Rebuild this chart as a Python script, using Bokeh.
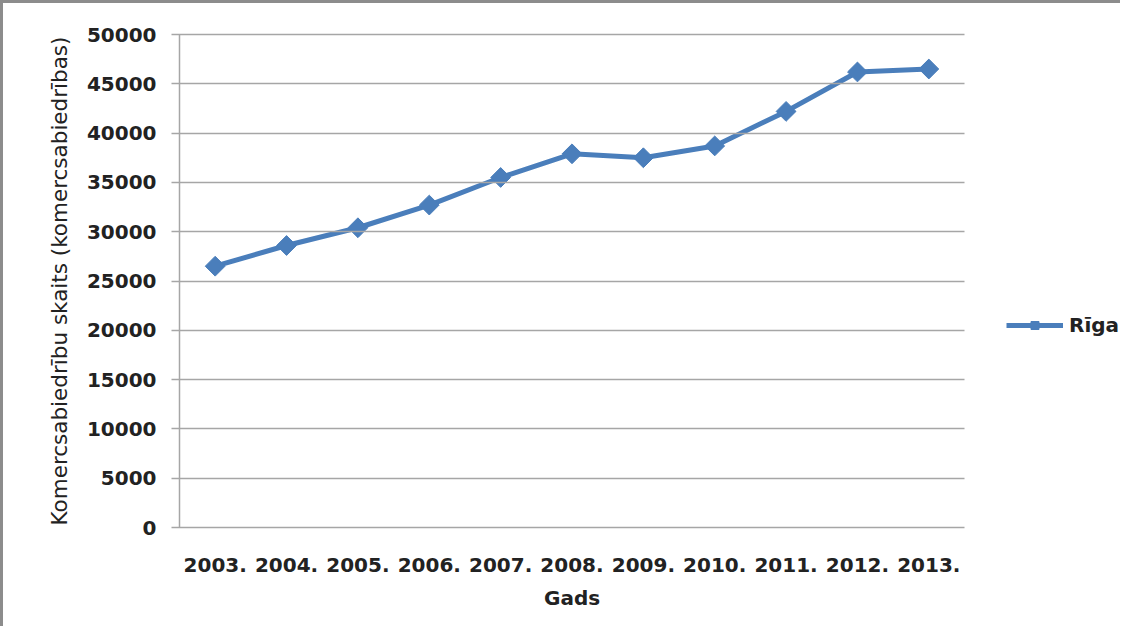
from bokeh.plotting import figure
from bokeh.models import Range1d, SingleIntervalTicker, FixedTicker, Legend, LegendItem, Title
from bokeh.embed import file_html
from bokeh.resources import INLINE
import math

years = ["2003.", "2004.", "2005.", "2006.", "2007.", "2008.", "2009.", "2010.", "2011.", "2012.", "2013."]
riga = [26500, 28600, 30400, 32700, 35500, 37900, 37500, 38700, 42200, 46200, 46500]

FONT = "DejaVu Sans"
BLUE = "#4a7ebb"
GRID = "#a6a6a6"

W, H = 1120, 626
LEFT, RIGHT, TOP, BOTTOM = 176, 4, 31, 102
PLOT_W = 785                      # width of the gridded area
frame_w = W - LEFT - RIGHT
n = len(years)
xs = list(range(n))
x_end = -0.5 + n * frame_w / PLOT_W

p = figure(width=W, height=H, x_range=Range1d(-0.5, x_end), y_range=Range1d(0, 50000),
           output_backend="svg", toolbar_location=None,
           min_border_left=LEFT, min_border_right=RIGHT, min_border_top=TOP, min_border_bottom=BOTTOM)
p.styles = {"border-top": "3px solid #8c8c8c", "border-left": "3px solid #8c8c8c"}
p.outline_line_color = None
p.xgrid.grid_line_color = None
p.ygrid.grid_line_color = None

p.yaxis.ticker = SingleIntervalTicker(interval=5000)
p.yaxis.axis_line_color = GRID
p.yaxis.axis_line_width = 1.5
p.yaxis.major_tick_line_color = GRID
p.yaxis.major_tick_line_width = 1.5
p.yaxis.major_tick_out = 8
p.yaxis.major_tick_in = PLOT_W
p.yaxis.minor_tick_line_color = None
p.yaxis.major_label_text_font = FONT
p.yaxis.major_label_text_font_style = "bold"
p.yaxis.major_label_text_font_size = "20px"
p.yaxis.major_label_text_color = "#222222"
p.yaxis.major_label_standoff = 15
p.yaxis.axis_label = "Komercsabiedrību skaits (komercsabiedrības)"
p.yaxis.axis_label_text_font = FONT
p.yaxis.axis_label_text_font_style = "normal"
p.yaxis.axis_label_text_font_size = "21.5px"
p.yaxis.axis_label_text_color = "#222222"
p.yaxis.axis_label_standoff = 12

p.xaxis.ticker = FixedTicker(ticks=xs)
p.xaxis.major_label_overrides = {i: years[i] for i in xs}
p.xaxis.bounds = (-0.5, n - 0.5)
p.xaxis.axis_line_color = None
p.xaxis.major_tick_line_color = None
p.xaxis.minor_tick_line_color = None
p.xaxis.major_label_text_font = FONT
p.xaxis.major_label_text_font_style = "bold"
p.xaxis.major_label_text_font_size = "20px"
p.xaxis.major_label_text_color = "#222222"
p.xaxis.major_label_standoff = 24

gads = Title(text="Gads", align="left", offset=PLOT_W / 2 - 28, standoff=18,
             text_font=FONT, text_font_style="bold", text_font_size="20px",
             text_color="#222222")
p.add_layout(gads, "below")

ln = p.line(xs, riga, line_color=BLUE, line_width=5)
mk = p.scatter(xs, riga, marker="square", angle=math.pi / 4, size=14,
               fill_color=BLUE, line_color=BLUE)

legend = Legend(items=[LegendItem(label="Rīga", renderers=[ln, mk])],
                location=(PLOT_W + 42, 190), padding=0, margin=0, border_line_color=None,
                background_fill_alpha=0, glyph_width=57, glyph_height=20,
                label_standoff=6, label_text_font=FONT, label_text_font_style="bold",
                label_text_font_size="20px", label_text_color="#222222")
p.add_layout(legend, "center")

open("out.html", "w").write(file_html(p, INLINE))
